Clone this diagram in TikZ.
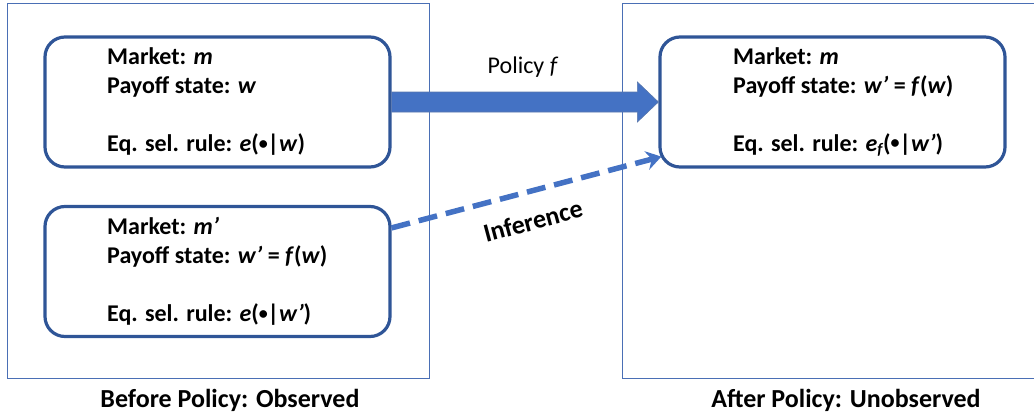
\documentclass[tikz,border=0pt]{standalone}
\usepackage{fontspec}
\setmainfont{Carlito}
\usetikzlibrary{arrows.meta,calc}
\definecolor{boxblue}{HTML}{2F5597}
\definecolor{arrowblue}{HTML}{4472C4}
\definecolor{framblue}{HTML}{4A6FB5}
\newcommand{\iv}[1]{\textbf{\textit{#1}}}
\newcommand{\pr}{\textbf{\textit{’}}}
\newcommand{\bul}{\raisebox{2.6pt}{\fontsize{18}{18}\selectfont•}}
\tikzset{
  frame/.style={draw=framblue, line width=1pt},
  state/.style={draw=boxblue, line width=3.2pt, rounded corners=20pt, minimum width=345pt, minimum height=130pt, inner sep=0pt},
  statetext/.style={anchor=west, align=left, inner sep=0pt, font=\fontsize{24}{29}\selectfont\bfseries},
  caption/.style={font=\fontsize{26}{30}\selectfont\bfseries, inner sep=0pt},
  infer/.style={draw=arrowblue, line width=5.5pt, dash pattern=on 19pt off 9pt, -{Stealth[length=15pt,width=19pt,inset=5pt]}},
}
\begin{document}
\begin{tikzpicture}[x=1pt,y=1pt]
\useasboundingbox (0,0) rectangle (1034,-418);
% outer frames
\draw[frame] (7,-3) rectangle (429,-378);
\draw[frame] (622,-3) rectangle (1045,-378);
% state boxes
\node[state] (b1) at (217.5,-102) {};
\node[state] (b2) at (217.5,-271.5) {};
\node[state] (b3) at (832.5,-102) {};
% texts
\node[statetext] (t1) at (107,-102) {Market: \iv{m}\\Payoff state: \iv{w}\\ \\Eq. sel. rule: \iv{e}(\bul|\iv{w})};
\node[statetext] (t2) at (107,-271.5) {Market: \iv{m}\pr\\Payoff state: \iv{w}\pr{} = \iv{f}(\iv{w})\\ \\Eq. sel. rule: \iv{e}(\bul|\iv{w}\pr)};
\node[statetext] (t3) at (733,-102) {Market: \iv{m}\\Payoff state: \iv{w}\pr{} = \iv{f}(\iv{w})\\ \\Eq. sel. rule: \iv{e}\raisebox{-0.3ex}{\fontsize{16}{16}\selectfont\iv{f}}(\bul|\iv{w}\pr)};
% policy block arrow
\fill[arrowblue, draw=boxblue!80, line width=0.6pt]
  ($(b1.east)+(0,10)$) -- ($(b3.west)+(-21,10)$) -- ($(b3.west)+(-21,20)$) -- (b3.west)
  -- ($(b3.west)+(-21,-20)$) -- ($(b3.west)+(-21,-10)$) -- ($(b1.east)+(0,-10)$) -- cycle;
\node[font=\fontsize{24}{28}\selectfont, inner sep=0pt] (pol) at (523,-67) {Policy \textit{f}};
% inference arrow
\coordinate (is) at ($(b2.north east)+(0,-23)$);
\coordinate (ie) at ($(b3.south west)+(3,12)$);
\draw[infer] (is) -- (ie);
\node[font=\fontsize{26}{28}\selectfont\bfseries, inner sep=0pt, rotate=15] (inf) at (533,-221) {Inference};
% captions
\node[caption] (c1) at (230,-400) {Before Policy: Observed};
\node[caption] (c2) at (846,-400) {After Policy: Unobserved};
\end{tikzpicture}
\end{document}
